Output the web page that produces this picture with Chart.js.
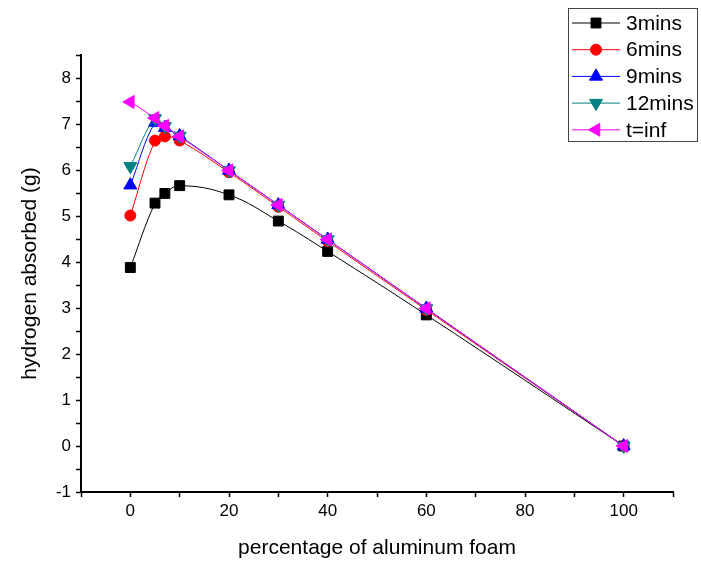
<!DOCTYPE html>
<html>
<head>
<meta charset="utf-8">
<script src="https://cdn.jsdelivr.net/npm/chart.js@4"></script>
<style>
    html, body { margin: 0; padding: 0; background: #fff; }
    #graphDiv { width: 701px; height: 561px; }
</style>
</head>
<body>
<div id="graphDiv"><canvas id="dataChart" width="701" height="561"></canvas></div>
<script>
// valeurs
const foamPercent = [0, 5, 7, 10, 20, 30, 40, 60, 100];
const mins3 = [3.88, 5.28, 5.49, 5.66, 5.46, 4.89, 4.23, 2.85, 0];
const mins6 = [5.01, 6.64, 6.73, 6.64, 5.95, 5.20, 4.45, 2.96, 0];
const mins9 = [5.67, 7.03, 6.92, 6.74, 5.99, 5.24, 4.49, 2.99, 0];
const mins12 = [6.08, 7.12, 6.95, 6.74, 5.99, 5.24, 4.49, 2.99, 0];
const tInf = [7.48, 7.13, 6.96, 6.73, 5.99, 5.24, 4.49, 2.99, 0];

const seriesLabels = ['3mins', '6mins', '9mins', '12mins', 't=inf'];
const xTickLabels = [0, 20, 40, 60, 80, 100];
const yTickLabels = [-1, 0, 1, 2, 3, 4, 5, 6, 7, 8];

const FONT = "'Liberation Sans', Arial, sans-serif";

function makeSet(label, values, color, style, radius, rotation, order) {
    return {
        label: label,
        data: foamPercent.map((x, i) => ({ x: x, y: values[i] })),
        borderColor: color,
        backgroundColor: color,
        pointBackgroundColor: color,
        pointBorderColor: color,
        pointStyle: style,
        pointRadius: radius,
        pointRotation: rotation,
        borderWidth: 1,
        tension: 0.4,
        order: order
    };
}

//Légende encadrée en haut à droite
const boxLegend = {
    id: 'boxLegend',
    afterDraw(chart) {
        const ctx = chart.ctx;
        const left = 568, top = 8, w = 129, h = 133;
        ctx.save();
        ctx.strokeStyle = '#444';
        ctx.lineWidth = 1;
        ctx.strokeRect(left + 0.5, top + 0.5, w, h);
        ctx.font = '21px ' + FONT;
        ctx.textBaseline = 'middle';
        chart.data.datasets.forEach((ds, i) => {
            const y = top + 15 + i * 26.7;
            ctx.strokeStyle = ds.borderColor;
            ctx.lineWidth = 1;
            ctx.beginPath();
            ctx.moveTo(572, y);
            ctx.lineTo(620, y);
            ctx.stroke();
            ctx.fillStyle = ds.borderColor;
            Chart.helpers.drawPoint(ctx, {
                pointStyle: ds.pointStyle,
                radius: ds.pointRadius,
                rotation: ds.pointRotation,
                borderWidth: 1
            }, 596, y);
            ctx.fillStyle = '#000';
            ctx.fillText(ds.label, 626, y + 1);
        });
        ctx.restore();
    }
};

const ctx = document.getElementById('dataChart').getContext('2d');
const dataChart = new Chart(ctx, {
    type: 'line',
    data: {
        datasets: [
            makeSet(seriesLabels[0], mins3, '#000000', 'rect', 7, 0, 4),
            makeSet(seriesLabels[1], mins6, '#ff0000', 'circle', 5.5, 0, 3),
            makeSet(seriesLabels[2], mins9, '#0000ff', 'triangle', 7.5, 0, 2),
            makeSet(seriesLabels[3], mins12, '#008080', 'triangle', 7.5, 180, 1),
            makeSet(seriesLabels[4], tInf, '#ff00ff', 'triangle', 7.5, 270, 0)
        ]
    },
    options: {
        responsive: false,
        animation: false,
        layout: { padding: { top: 55, right: 28, left: 0, bottom: 0 } },
        plugins: {
            legend: { display: false },
            tooltip: { enabled: false }
        },
        scales: {
            x: {
                type: 'linear',
                min: -10,
                max: 110,
                afterFit: scale => { scale.height = 69; },
                ticks: {
                    stepSize: 10,
                    autoSkip: false,
                    maxRotation: 0,
                    color: '#000',
                    padding: 4,
                    font: { family: FONT, size: 17 },
                    callback: v => xTickLabels.includes(v) ? String(v) : ''
                },
                grid: { drawOnChartArea: false, tickLength: 5, color: '#000', tickWidth: 1.5 },
                border: { display: true, color: '#000', width: 2 },
                title: {
                    display: true,
                    text: 'percentage of aluminum foam',
                    color: '#000',
                    font: { family: FONT, size: 21 },
                    padding: { top: 6, bottom: 0 }
                }
            },
            y: {
                type: 'linear',
                min: -1,
                max: 8.5,
                afterFit: scale => { scale.width = 81; },
                ticks: {
                    stepSize: 0.5,
                    autoSkip: false,
                    color: '#000',
                    padding: 5,
                    font: { family: FONT, size: 17 },
                    callback: v => yTickLabels.includes(v) ? String(v) : ''
                },
                grid: { drawOnChartArea: false, tickLength: 5, color: '#000', tickWidth: 1.5 },
                border: { display: true, color: '#000', width: 2 },
                title: {
                    display: true,
                    text: 'hydrogen absorbed (g)',
                    color: '#000',
                    font: { family: FONT, size: 21 },
                    padding: { top: 18, bottom: 0 }
                }
            }
        }
    },
    plugins: [boxLegend]
});
</script>
</body>
</html>
